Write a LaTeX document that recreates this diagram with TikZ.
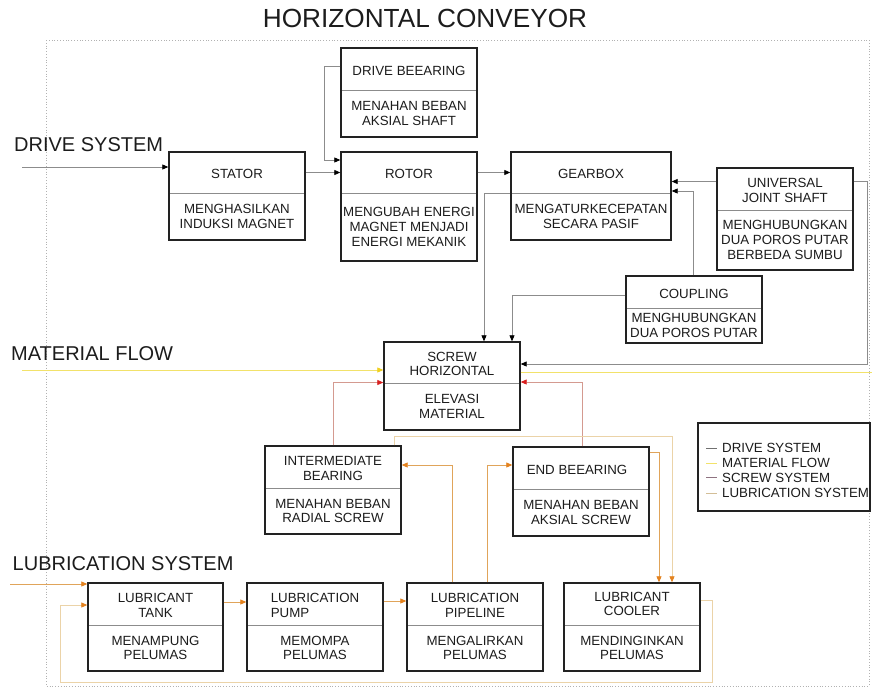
\documentclass[tikz,border=0pt]{standalone}
\usepackage{fontspec}
\setmainfont{Liberation Sans}
\usetikzlibrary{arrows.meta,fit}
\definecolor{boxc}{HTML}{222222}
\definecolor{txtc}{HTML}{1C1C1C}
\definecolor{drvc}{HTML}{8C8C8C}
\definecolor{matc}{HTML}{F2E26A}
\definecolor{mattip}{HTML}{F0D020}
\definecolor{scrc}{HTML}{D49A90}
\definecolor{scrtip}{HTML}{D81E1E}
\definecolor{lubc}{HTML}{E0A45A}
\definecolor{lubpale}{HTML}{EBD3A8}
\definecolor{lubtip}{HTML}{E4821E}
\definecolor{legscr}{HTML}{8E7280}
\tikzset{
  box/.style={draw=boxc, line width=1.4pt, inner sep=0pt},
  divider/.style={draw=drvc, line width=0.8pt},
  txt/.style={font=\fontsize{13.3}{14.8}\selectfont, align=center, inner sep=0pt, text=txtc},
  sect/.style={font=\fontsize{20}{24}\selectfont, anchor=west, inner sep=0pt, text=txtc},
  drv/.style={draw=drvc, line width=0.8pt, -{Triangle[length=6pt,width=5pt,color=black]}},
  mat/.style={draw=matc, line width=0.8pt, -{Triangle[length=6pt,width=5pt,color=mattip]}},
  matline/.style={draw=matc, line width=0.8pt},
  scr/.style={draw=scrc, line width=0.8pt, -{Triangle[length=6pt,width=5pt,color=scrtip]}},
  lub/.style={draw=lubc, line width=0.8pt, -{Triangle[length=6pt,width=5pt,color=lubtip]}},
  lubp/.style={draw=lubpale, line width=0.8pt, -{Triangle[length=6pt,width=5pt,color=lubtip]}},
  legtxt/.style={font=\fontsize{13.3}{14.8}\selectfont, anchor=west, inner sep=0pt, text=txtc},
}
\newcommand\blk[9][]{%
  \draw[divider] (#3,#7) -- (#5,#7);
  \node[box, fit={(#3,#4) (#5,#6)}] (#2) {};
  \node[txt,yshift=-1.5pt,#1] (#2-t) at ({(#3+#5)/2},{(#4+#7)/2}) {#8};
  \node[txt] (#2-d) at ({(#3+#5)/2},{(#7+#6)/2}) {#9};
}
\begin{document}
\begin{tikzpicture}[x=1pt,y=-1pt]
\useasboundingbox (0,0) rectangle (872,689);
\fill[white] (0,0) rectangle (872,689);
\draw[dotted, gray!60, line width=0.8pt] (46,40) rectangle (869,686);

\node[font=\fontsize{26.2}{30}\selectfont, inner sep=0pt, text=txtc] (title) at (425,18) {HORIZONTAL CONVEYOR};
\node[sect] (lds) at (14,145) {DRIVE SYSTEM};
\node[sect] (lmf) at (11,353.5) {MATERIAL FLOW};
\node[sect] (lls) at (12.5,563.5) {LUBRICATION SYSTEM};

\blk{drivebearing}{341}{48}{477}{137}{90}{DRIVE BEEARING}{MENAHAN BEBAN\\AKSIAL SHAFT}
\blk{stator}{169}{152}{305}{240}{193}{STATOR}{MENGHASILKAN\\INDUKSI MAGNET}
\blk{rotor}{341}{152}{477}{261}{193}{ROTOR}{MENGUBAH ENERGI\\MAGNET MENJADI\\ENERGI MEKANIK}
\blk{gearbox}{511}{152}{671}{240}{193}{GEARBOX}{MENGATURKECEPATAN\\SECARA PASIF}
\blk{ujs}{717}{168}{853}{270}{210}{UNIVERSAL\\JOINT SHAFT}{MENGHUBUNGKAN\\DUA POROS PUTAR\\BERBEDA SUMBU}
\blk{coupling}{626}{276}{762}{343}{308}{COUPLING}{MENGHUBUNGKAN\\DUA POROS PUTAR}
\blk{screw}{384}{342}{520}{430}{383}{SCREW\\HORIZONTAL}{ELEVASI\\MATERIAL}
\blk{interm}{265}{446}{401}{534}{488}{INTERMEDIATE\\BEARING}{MENAHAN BEBAN\\RADIAL SCREW}
\blk[xshift=-4pt]{endb}{513}{447}{649}{536}{489}{END BEEARING}{MENAHAN BEBAN\\AKSIAL SCREW}
\blk{tank}{88}{583}{223}{671}{625}{LUBRICANT\\TANK}{MENAMPUNG\\PELUMAS}
\blk[align=left]{pump}{247}{583}{383}{671}{625}{LUBRICATION\\PUMP}{MEMOMPA\\PELUMAS}
\blk{pipeline}{407}{583}{543}{671}{625}{LUBRICATION\\PIPELINE}{MENGALIRKAN\\PELUMAS}
\blk[yshift=1.5pt]{cooler}{564}{583}{700}{671}{625}{LUBRICANT\\COOLER}{MENDINGINKAN\\PELUMAS}

% drive system
\coordinate (dsin) at (22,167);
\draw[drv] (dsin) -- (dsin -| stator.west);
\coordinate (r1) at (0,172.5);
\draw[drv] (stator.east |- r1) -- (rotor.west |- r1);
\draw[drv] (rotor.east |- r1) -- (gearbox.west |- r1);
\coordinate (db1) at (324,66);
\coordinate (db2) at (324,160);
\draw[drv] (drivebearing.west |- db1) -- (db1) -- (db2) -- (db2 -| rotor.west);
\coordinate (u1) at (0,181.5);
\draw[drv] (ujs.west |- u1) -- (gearbox.east |- u1);
\coordinate (c1) at (693,191);
\draw[drv] (coupling.north -| c1) -- (c1) -- (c1 -| gearbox.east);
\coordinate (g1) at (484,193);
\draw[drv] (gearbox.west |- g1) -- (g1) -- (g1 |- screw.north);
\coordinate (c2) at (512,295);
\draw[drv] (coupling.west |- c2) -- (c2) -- (c2 |- screw.north);
\coordinate (u2) at (867,181);
\coordinate (u3) at (867,364);
\draw[drv] (ujs.east |- u2) -- (u2) -- (u3) -- (u3 -| screw.east);

% material flow
\coordinate (mfin) at (22,370);
\draw[mat] (mfin) -- (mfin -| screw.west);
\coordinate (mfout) at (872,372.7);
\draw[matline] (screw.east |- mfout) -- (mfout);

% screw system
\coordinate (s1) at (333,382.5);
\draw[scr] (interm.north -| s1) -- (s1) -- (s1 -| screw.west);
\coordinate (s2) at (582,382);
\draw[scr] (endb.north -| s2) -- (s2) -- (s2 -| screw.east);

% lubrication system
\coordinate (ls) at (10,584);
\draw[lub] (ls) -- (ls -| tank.west);
\coordinate (l1) at (0,602);
\draw[lub] (tank.east |- l1) -- (pump.west |- l1);
\coordinate (l2) at (0,601);
\draw[lub] (pump.east |- l2) -- (pipeline.west |- l2);
\coordinate (l3) at (452,465);
\draw[lub] (pipeline.north -| l3) -- (l3) -- (l3 -| interm.east);
\coordinate (l4) at (487,465);
\draw[lub] (pipeline.north -| l4) -- (l4) -- (l4 -| endb.west);
\coordinate (l5) at (394,436);
\coordinate (l6) at (672,436);
\draw[lubp] (interm.north -| l5) -- (l5) -- (l6) -- (l6 |- cooler.north);
\coordinate (l7) at (659,452);
\draw[lub] (endb.east |- l7) -- (l7) -- (l7 |- cooler.north);
\coordinate (l8) at (712,600);
\coordinate (l9) at (712,682);
\coordinate (l10) at (60,682);
\coordinate (l11) at (60,605);
\draw[lubp] (cooler.east |- l8) -- (l8) -- (l9) -- (l10) -- (l11) -- (l11 -| tank.west);

% legend
\node[draw=boxc, line width=1.4pt, inner sep=0pt, fit={(698,423) (870,511)}] (legend) {};
\coordinate (g1a) at (706,448.3);
\coordinate (g2a) at (706,463.3);
\coordinate (g3a) at (706,477.7);
\coordinate (g4a) at (706,493.3);
\node[legtxt] (leg1) at (722,448.3) {DRIVE SYSTEM};
\node[legtxt] (leg2) at (722,463.3) {MATERIAL FLOW};
\node[legtxt] (leg3) at (722,477.7) {SCREW SYSTEM};
\node[legtxt] (leg4) at (722,493.3) {LUBRICATION SYSTEM};
\draw[draw=drvc!80!black, line width=1pt] (g1a) -- ++(11,0);
\draw[draw=matc, line width=1pt] (g2a) -- ++(11,0);
\draw[draw=legscr, line width=1pt] (g3a) -- ++(11,0);
\draw[draw=lubpale!90!black, line width=1pt] (g4a) -- ++(11,0);
\end{tikzpicture}
\end{document}
